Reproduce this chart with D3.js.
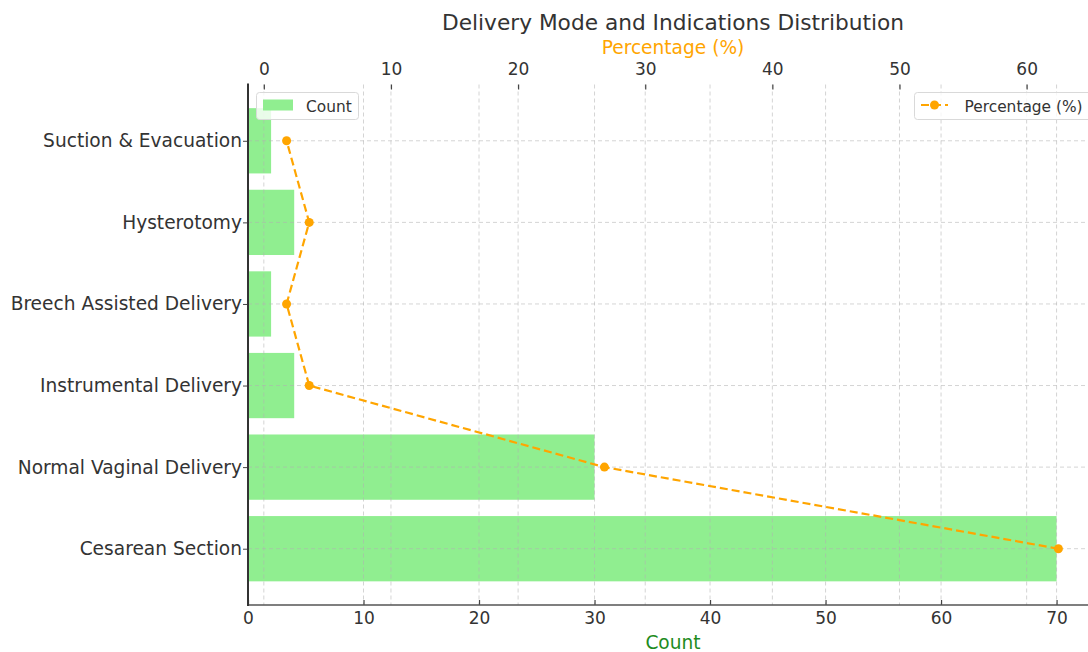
<!DOCTYPE html>
<html><head><meta charset="utf-8">
<script src="https://cdn.jsdelivr.net/npm/d3@7"></script>
<style>body{margin:0;background:#fff;overflow:hidden}svg{display:block;font-family:"DejaVu Sans",sans-serif}</style>
</head><body><svg id="c" width="1088" height="652"></svg>
<script>
const categories = ["Cesarean Section","Normal Vaginal Delivery","Instrumental Delivery","Breech Assisted Delivery","Hysterotomy","Suction & Evacuation"];
const counts = [70, 30, 4, 2, 4, 2];
const percentages = [62.5, 26.79, 3.57, 1.79, 3.57, 1.79];
const countTicks = [0,10,20,30,40,50,60,70];
const pctTicks = [0,10,20,30,40,50,60];

(function(){
const svg = d3.select("#c");
const L = 248, R = 1097, T = 84.5, B = 605;
const x = d3.scaleLinear().domain([0, 73.5]).range([L, R]);
const pmin = d3.min(percentages), pmax = d3.max(percentages), pm = (pmax - pmin) * 0.05;
const xp = d3.scaleLinear().domain([pmin - pm, pmax + pm]).range([L, R]);
const y = d3.scaleLinear().domain([-0.69, 5.69]).range([B, T]);
const bw = y(0) - y(0.8);

svg.append("g").selectAll("rect").data(counts).join("rect")
  .attr("x", x(0)).attr("y", (d,i) => y(i + 0.4))
  .attr("width", d => x(d) - x(0)).attr("height", bw)
  .attr("fill", "#90EE90");

const grid = svg.append("g").attr("stroke", "#b0b0b0").attr("stroke-opacity", 0.55)
  .attr("stroke-width", 1).attr("stroke-dasharray", "4,3");
grid.selectAll(".gc").data(countTicks).join("line").attr("class","gc")
  .attr("x1", d => x(d)).attr("x2", d => x(d)).attr("y1", T).attr("y2", B);
grid.selectAll(".gp").data(pctTicks).join("line").attr("class","gp")
  .attr("x1", d => xp(d)).attr("x2", d => xp(d)).attr("y1", T).attr("y2", B);
grid.selectAll(".gy").data(categories).join("line").attr("class","gy")
  .attr("x1", L).attr("x2", R).attr("y1", (d,i) => y(i)).attr("y2", (d,i) => y(i));

const line = d3.line().x(d => xp(d)).y((d,i) => y(i));
svg.append("path").datum(percentages).attr("d", line)
  .attr("fill", "none").attr("stroke", "#FFA500").attr("stroke-width", 2.2)
  .attr("stroke-dasharray", "8,4");
svg.append("g").selectAll("circle").data(percentages).join("circle")
  .attr("cx", d => xp(d)).attr("cy", (d,i) => y(i)).attr("r", 4.5).attr("fill", "#FFA500");

const bottomAx = svg.append("g").attr("transform", `translate(0,${B})`)
  .call(d3.axisBottom(x).tickValues(countTicks).tickSize(-5).tickPadding(7));
bottomAx.select(".domain").remove();
bottomAx.selectAll(".tick line").attr("stroke", "#444").attr("stroke-width", 1.2);
bottomAx.selectAll("text").attr("font-size", 17).attr("fill", "#333").attr("font-family", "DejaVu Sans");
svg.append("line").attr("x1", L).attr("x2", R).attr("y1", B).attr("y2", B).attr("stroke", "#555").attr("stroke-width", 1.6);

const topAx = svg.append("g").attr("transform", `translate(0,${T})`)
  .call(d3.axisTop(xp).tickValues(pctTicks).tickSize(-5).tickPadding(9.5));
topAx.select(".domain").remove();
topAx.selectAll(".tick line").attr("stroke", "#444").attr("stroke-width", 1.2);
topAx.selectAll("text").attr("font-size", 17).attr("fill", "#333").attr("font-family", "DejaVu Sans");

const leftAx = svg.append("g").attr("transform", `translate(${L},0)`)
  .call(d3.axisLeft(y).tickValues(d3.range(categories.length)).tickFormat(i => categories[i]).tickSize(5).tickPadding(1));
leftAx.select(".domain").remove();
leftAx.selectAll(".tick line").attr("stroke", "#444");
leftAx.selectAll("text").attr("font-size", 18.6).attr("fill", "#333").attr("font-family", "DejaVu Sans");
svg.append("line").attr("x1", L).attr("x2", L).attr("y1", T - 1).attr("y2", B + 1).attr("stroke", "#333").attr("stroke-width", 2);

svg.append("text").attr("x", 673).attr("y", 30).attr("text-anchor", "middle")
  .attr("font-size", 21.7).attr("fill", "#333").text("Delivery Mode and Indications Distribution");
svg.append("text").attr("x", 673).attr("y", 54).attr("text-anchor", "middle")
  .attr("font-size", 18.6).attr("fill", "#FFA500").text("Percentage (%)");
svg.append("text").attr("x", 673).attr("y", 649).attr("text-anchor", "middle")
  .attr("font-size", 18.6).attr("fill", "#1e8c1e").text("Count");

const lg1 = svg.append("g");
lg1.append("rect").attr("x", 256.5).attr("y", 92.5).attr("width", 102).attr("height", 27).attr("rx", 3)
  .attr("fill", "#fff").attr("fill-opacity", 0.8).attr("stroke", "#d9d9d9");
lg1.append("rect").attr("x", 263).attr("y", 99.5).attr("width", 30).attr("height", 11).attr("fill", "#90EE90");
lg1.append("text").attr("x", 306).attr("y", 111.5).attr("font-size", 15.4).attr("fill", "#333").text("Count");

const lg2 = svg.append("g");
lg2.append("rect").attr("x", 914.5).attr("y", 92.5).attr("width", 180).attr("height", 27).attr("rx", 3)
  .attr("fill", "#fff").attr("fill-opacity", 0.8).attr("stroke", "#d9d9d9");
lg2.append("line").attr("x1", 921).attr("x2", 948).attr("y1", 105).attr("y2", 105)
  .attr("stroke", "#FFA500").attr("stroke-width", 2.2).attr("stroke-dasharray", "8,4");
lg2.append("circle").attr("cx", 934.5).attr("cy", 105).attr("r", 4.5).attr("fill", "#FFA500");
lg2.append("text").attr("x", 964.5).attr("y", 111.5).attr("font-size", 15.4).attr("fill", "#333").text("Percentage (%)");
})();
</script></body></html>
